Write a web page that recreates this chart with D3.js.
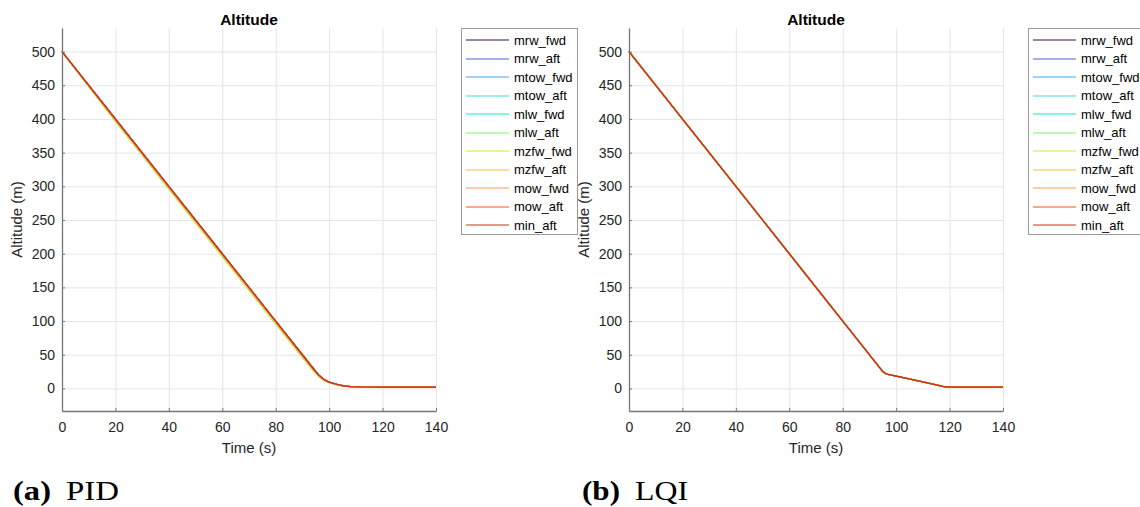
<!DOCTYPE html>
<html>
<head>
<meta charset="utf-8">
<script src="https://cdn.jsdelivr.net/npm/d3@7"></script>
<style>
body { margin: 0; background: #ffffff; overflow: hidden; }
</style>
</head>
<body>
<script>
// series names + colours (legend order)
var seriesNames = ["mrw_fwd", "mrw_aft", "mtow_fwd", "mtow_aft", "mlw_fwd", "mlw_aft",
                   "mzfw_fwd", "mzfw_aft", "mow_fwd", "mow_aft", "min_aft"];
var seriesColors = ["#30123b", "#4662d7", "#36aaf9", "#3cd8e6", "#1be5b5", "#72fe5e",
                    "#c8ef34", "#f2bf3c", "#fb9a50", "#e8561c", "#d2301a"];

var xTicks = [0, 20, 40, 60, 80, 100, 120, 140];
var yTicks = [0, 50, 100, 150, 200, 250, 300, 350, 400, 450, 500];

// PID panel
var timePid = [0, 20, 40, 60, 80, 90, 94, 96, 98, 100, 102, 104, 106, 108, 112, 120, 140];
var pidMrwFwd  = [500, 400, 300, 200, 100, 50, 30, 20.4, 13.4, 9.5, 7, 5, 3.6, 2.8, 2.2, 2, 2];
var pidMrwAft  = [500, 399.5, 299.5, 199.5, 99.5, 49.5, 29.6, 20.1, 13.2, 9.4, 6.9, 4.9, 3.6, 2.8, 2.2, 2, 2];
var pidMtowFwd = [500, 399, 299, 199, 99, 49, 29.2, 19.8, 13, 9.2, 6.8, 4.8, 3.5, 2.7, 2.2, 2, 2];
var pidMtowAft = [500, 398.5, 298.5, 198.5, 98.5, 48.5, 28.7, 19.5, 12.9, 9.1, 6.7, 4.8, 3.5, 2.7, 2.2, 2, 2];
var pidMlwFwd  = [500, 397, 296.5, 196.5, 96.5, 46.5, 27, 18.5, 12.3, 8.8, 6.5, 4.6, 3.4, 2.6, 2.2, 2, 2];
var pidMlwAft  = [500, 396.5, 296, 196, 96, 46, 26.5, 18, 12, 8.7, 6.4, 4.6, 3.3, 2.6, 2.2, 2, 2];
var pidMzfwFwd = [500, 397, 296.5, 196.5, 96.5, 46.5, 27, 18.4, 12.2, 8.8, 6.5, 4.6, 3.4, 2.6, 2.2, 2, 2];
var pidMzfwAft = [500, 398, 297.5, 197.5, 97.5, 47.5, 28, 19, 12.6, 9, 6.6, 4.7, 3.4, 2.7, 2.2, 2, 2];
var pidMowFwd  = [500, 399, 299, 199, 99, 49, 29, 19.7, 13, 9.2, 6.8, 4.8, 3.5, 2.7, 2.2, 2, 2];
var pidMowAft  = [500, 399.5, 299.5, 199.5, 99.5, 49.5, 29.5, 20, 13.2, 9.3, 6.8, 4.9, 3.5, 2.7, 2.2, 2, 2];
var pidMinAft  = [500, 400, 300, 200, 100, 50, 30, 20.5, 13.5, 9.5, 7, 5, 3.6, 2.8, 2.2, 2, 2];

// LQI panel
var timeLqi = [0, 95, 96, 97, 100, 110, 117.5, 118.5, 120, 140];
var lqiMrwFwd  = [500, 25, 22.3, 20.9, 18.3, 9.7, 3.2, 2.5, 2.1, 1.8];
var lqiMrwAft  = [500, 25, 22.3, 20.9, 18.3, 9.7, 3.2, 2.5, 2.1, 1.8];
var lqiMtowFwd = [500, 25, 22.3, 20.9, 18.3, 9.7, 3.2, 2.5, 2.1, 1.8];
var lqiMtowAft = [500, 25, 22.3, 20.9, 18.3, 9.7, 3.2, 2.5, 2.1, 1.8];
var lqiMlwFwd  = [500, 25, 22.3, 20.9, 18.3, 9.7, 3.2, 2.5, 2.1, 1.8];
var lqiMlwAft  = [500, 25, 22.3, 20.9, 18.3, 9.7, 3.2, 2.5, 2.1, 1.8];
var lqiMzfwFwd = [500, 25, 22.3, 20.9, 18.3, 9.7, 3.2, 2.5, 2.1, 1.8];
var lqiMzfwAft = [500, 25, 22.3, 20.9, 18.3, 9.7, 3.2, 2.5, 2.1, 1.8];
var lqiMowFwd  = [500, 25, 22.3, 20.9, 18.3, 9.7, 3.2, 2.5, 2.1, 1.8];
var lqiMowAft  = [500, 25, 22.3, 20.9, 18.3, 9.7, 3.2, 2.5, 2.1, 1.8];
var lqiMinAft  = [500, 25, 22.3, 20.9, 18.3, 9.7, 3.2, 2.5, 2.1, 1.8];

var pidSeries = [pidMrwFwd, pidMrwAft, pidMtowFwd, pidMtowAft, pidMlwFwd, pidMlwAft,
                 pidMzfwFwd, pidMzfwAft, pidMowFwd, pidMowAft, pidMinAft];
var lqiSeries = [lqiMrwFwd, lqiMrwAft, lqiMtowFwd, lqiMtowAft, lqiMlwFwd, lqiMlwAft,
                 lqiMzfwFwd, lqiMzfwAft, lqiMowFwd, lqiMowAft, lqiMinAft];

var width = 1140;
var height = 507;
var plotTop = 28, plotBottom = 411, plotWidth = 374;
var sans = "'Liberation Sans', Arial, Helvetica, sans-serif";
var serif = "'Liberation Serif', 'DejaVu Serif', serif";

var svg = d3.select("body").append("svg").attr("width", width).attr("height", height);

function drawPanel(left, time, series, legendLeft, captionLeft, tag, name) {
    var x = d3.scaleLinear().domain([0, 140]).range([left, left + plotWidth]);
    var y = d3.scaleLinear().domain([-33.5, 535]).range([plotBottom, plotTop]);
    var g = svg.append("g");

    // grid
    g.append("g").attr("transform", "translate(0," + plotBottom + ")")
        .call(d3.axisBottom(x).tickValues(xTicks).tickSize(-(plotBottom - plotTop)).tickFormat(""))
        .call(function(s){ s.select(".domain").remove(); s.selectAll("line").attr("stroke", "#e5e5e5"); });
    g.append("g").attr("transform", "translate(" + left + ",0)")
        .call(d3.axisLeft(y).tickValues(yTicks).tickSize(-plotWidth).tickFormat(""))
        .call(function(s){ s.select(".domain").remove(); s.selectAll("line").attr("stroke", "#e5e5e5"); });

    // lines
    var line = d3.line().x(function(d){ return x(d[0]); }).y(function(d){ return y(d[1]); });
    series.forEach(function(vals, i) {
        g.append("path")
            .datum(time.map(function(t, j){ return [t, vals[j]]; }))
            .attr("d", line)
            .attr("fill", "none")
            .attr("stroke", seriesColors[i])
            .attr("stroke-width", 1.3);
    });

    // axes
    var xAxis = g.append("g").attr("transform", "translate(0," + plotBottom + ")")
        .call(d3.axisBottom(x).tickValues(xTicks).tickSizeInner(-3).tickSizeOuter(0).tickPadding(11));
    var yAxis = g.append("g").attr("transform", "translate(" + left + ",0)")
        .call(d3.axisLeft(y).tickValues(yTicks).tickSizeInner(-3).tickSizeOuter(0).tickPadding(7));
    [xAxis, yAxis].forEach(function(a) {
        a.attr("font-size", 14).attr("font-family", sans);
        a.select(".domain").attr("stroke", "#767676").attr("stroke-width", 1.3);
        a.selectAll(".tick line").attr("stroke", "#767676");
        a.selectAll(".tick text").attr("fill", "#262626");
    });

    // title + labels
    g.append("text").attr("x", left + plotWidth / 2).attr("y", 25)
        .attr("text-anchor", "middle").attr("font-family", sans)
        .attr("font-size", 15.5).attr("font-weight", "bold").attr("fill", "#000")
        .text("Altitude");
    g.append("text").attr("x", left + plotWidth / 2).attr("y", 453)
        .attr("text-anchor", "middle").attr("font-family", sans)
        .attr("font-size", 15).attr("fill", "#262626")
        .text("Time (s)");
    g.append("text").attr("transform", "translate(" + (left - 40) + "," + ((plotTop + plotBottom) / 2) + ") rotate(-90)")
        .attr("text-anchor", "middle").attr("font-family", sans)
        .attr("font-size", 15).attr("fill", "#262626")
        .text("Altitude (m)");

    // legend
    var leg = g.append("g").attr("transform", "translate(" + legendLeft + ",28)");
    leg.append("rect").attr("x", 0.5).attr("y", 0.5).attr("width", 116).attr("height", 206)
        .attr("fill", "#fff").attr("stroke", "#9a9a9a").attr("stroke-width", 1);
    seriesNames.forEach(function(n, i) {
        var cy = 12 + i * 18.5;
        leg.append("line").attr("x1", 5).attr("x2", 48).attr("y1", Math.round(cy)).attr("y2", Math.round(cy))
            .attr("stroke", seriesColors[i]).attr("stroke-width", 1);
        leg.append("text").attr("x", 53).attr("y", cy + 4.5)
            .attr("font-family", sans).attr("font-size", 13).attr("fill", "#000")
            .text(n);
    });

    // caption
    g.append("text").attr("x", captionLeft).attr("y", 500)
        .attr("font-family", serif).attr("font-size", 27).attr("font-weight", "bold")
        .attr("textLength", 38).attr("lengthAdjust", "spacingAndGlyphs").text(tag);
    g.append("text").attr("x", captionLeft + 53).attr("y", 500)
        .attr("font-family", serif).attr("font-size", 27)
        .attr("textLength", 53).attr("lengthAdjust", "spacingAndGlyphs").text(name);
}

drawPanel(62, timePid, pidSeries, 461, 13, "(a)", "PID");
drawPanel(629, timeLqi, lqiSeries, 1028, 582, "(b)", "LQI");
</script>
</body>
</html>
